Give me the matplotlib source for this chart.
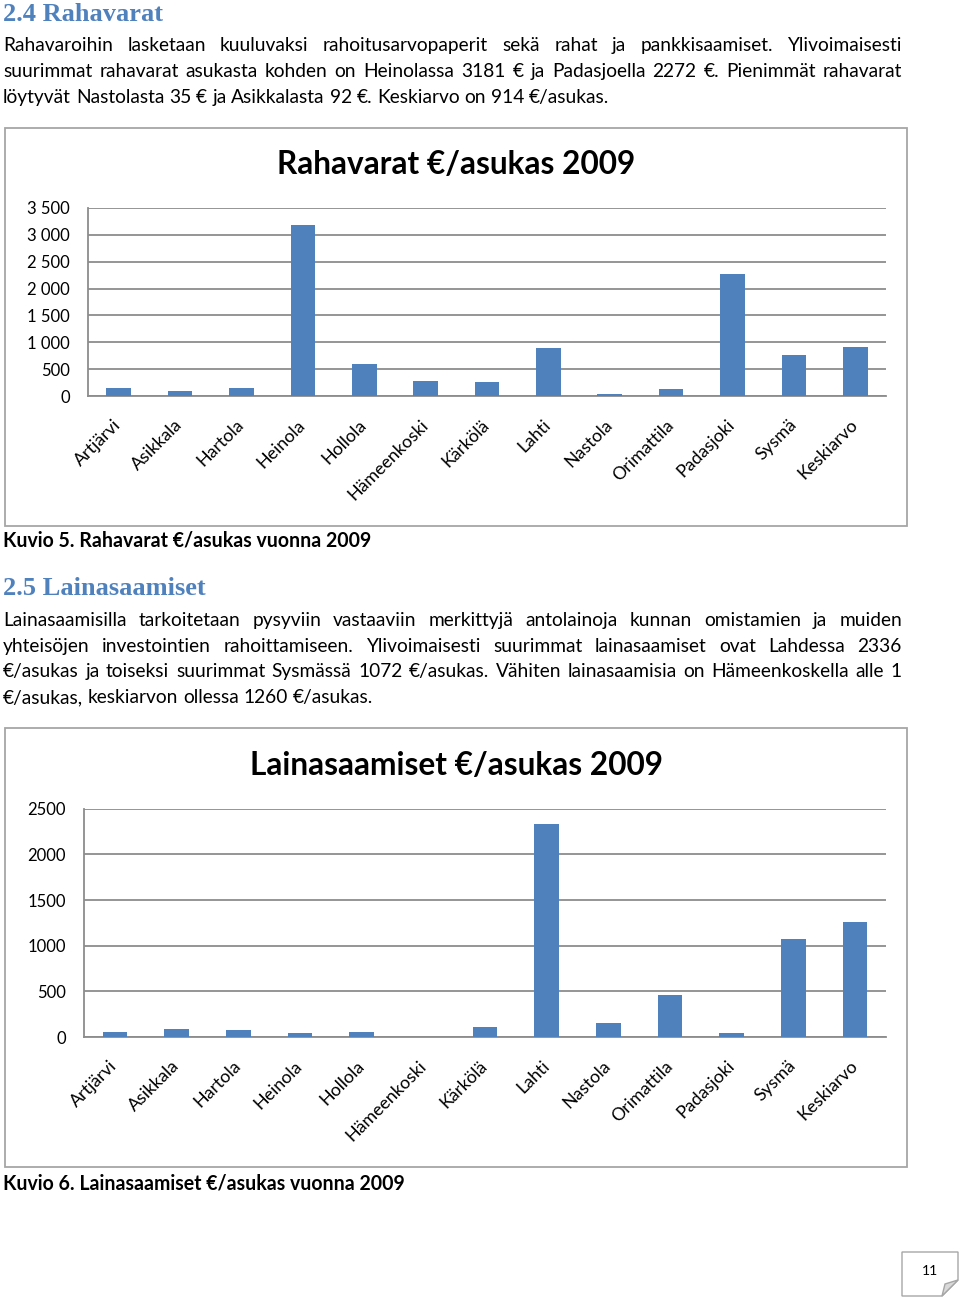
import matplotlib.pyplot as plt
from matplotlib.patches import Rectangle, Polygon

plt.rcParams['font.family'] = ['Lato', 'DejaVu Sans']

kunnat = ['Artjärvi', 'Asikkala', 'Hartola', 'Heinola', 'Hollola', 'Hämeenkoski',
          'Kärkölä', 'Lahti', 'Nastola', 'Orimattila', 'Padasjoki', 'Sysmä', 'Keskiarvo']
rahavarat = [155, 92, 155, 3181, 597, 285, 255, 890, 35, 130, 2272, 770, 914]
lainasaamiset = [58, 88, 80, 44, 58, 1, 113, 2336, 149, 455, 40, 1072, 1260]

raha_ticks = [0, 500, 1000, 1500, 2000, 2500, 3000, 3500]
raha_ticklabels = ['0', '500', '1 000', '1 500', '2 000', '2 500', '3 000', '3 500']
laina_ticks = [0, 500, 1000, 1500, 2000, 2500]
laina_ticklabels = ['0', '500', '1000', '1500', '2000', '2500']

teksti_24 = [
    'Rahavaroihin lasketaan kuuluvaksi rahoitusarvopaperit sekä rahat ja pankkisaamiset. Ylivoimaisesti',
    'suurimmat rahavarat asukasta kohden on Heinolassa 3181 € ja Padasjoella 2272 €. Pienimmät rahavarat',
    'löytyvät Nastolasta 35 € ja Asikkalasta 92 €. Keskiarvo on 914 €/asukas.',
]
teksti_25 = [
    'Lainasaamisilla tarkoitetaan pysyviin vastaaviin merkittyjä antolainoja kunnan omistamien ja muiden',
    'yhteisöjen investointien rahoittamiseen. Ylivoimaisesti suurimmat lainasaamiset ovat Lahdessa 2336',
    '€/asukas ja toiseksi suurimmat Sysmässä 1072 €/asukas. Vähiten lainasaamisia on Hämeenkoskella alle 1',
    '€/asukas, keskiarvon ollessa 1260 €/asukas.',
]

W, H = 960, 1298
fig = plt.figure(figsize=(W / 100, H / 100), dpi=100)
renderer = fig.canvas.get_renderer()

BLUE = '#4F81BD'
HEAD = '#4F81BD'
GRID = '#8C8C8C'
FRAME = '#A6A6A6'
BODY = 13.8


def fx(x):
    return x / W


def fy(y):
    return 1 - y / H


def put_line(line, y, justify, size=BODY, x0=3, x1=902):
    words = line.split(' ')
    texts = [fig.text(0, 0, w, fontsize=size, va='baseline') for w in words]
    widths = [t.get_window_extent(renderer).width for t in texts]
    if justify and len(words) > 1:
        gap = (x1 - x0 - sum(widths)) / (len(words) - 1)
    else:
        a = fig.text(0, 0, 'a a', fontsize=size)
        b = fig.text(0, 0, 'aa', fontsize=size)
        gap = a.get_window_extent(renderer).width - b.get_window_extent(renderer).width
        a.remove()
        b.remove()
    x = x0
    for t, w in zip(texts, widths):
        t.set_position((fx(x), fy(y)))
        x += w + gap


def heading(s, y):
    fig.text(fx(3), fy(y), s, fontsize=19, fontweight='bold', color=HEAD,
             family=['Liberation Serif', 'DejaVu Serif'], va='baseline')


def chart(box, ax_px, values, ticks, ticklabels, title, title_y):
    bx0, by0, bx1, by1 = box
    fig.patches.append(Rectangle((fx(bx0), fy(by1)), fx(bx1) - fx(bx0), fy(by0) - fy(by1),
                                 transform=fig.transFigure, fill=False,
                                 edgecolor=FRAME, linewidth=1.3))
    l, r, t, b = ax_px
    ax = fig.add_axes([fx(l), fy(b), fx(r) - fx(l), fy(t) - fy(b)])
    ax.bar(range(len(kunnat)), values, width=0.4, color=BLUE, zorder=3)
    ax.set_xlim(-0.5, len(kunnat) - 0.5)
    ax.set_ylim(0, ticks[-1])
    ax.set_yticks(ticks)
    ax.set_yticklabels(ticklabels, fontsize=12)
    ax.set_xticks(range(len(kunnat)))
    ax.set_xticklabels(kunnat, fontsize=12.8, rotation=45, ha='right',
                       rotation_mode='anchor', va='center')
    ax.tick_params(axis='y', length=0, pad=13)
    ax.tick_params(axis='x', length=0, pad=19)
    ax.grid(axis='y', color=GRID, linewidth=1.3, zorder=0)
    for s in ['top', 'right']:
        ax.spines[s].set_visible(False)
    for s in ['left', 'bottom']:
        ax.spines[s].set_color(GRID)
        ax.spines[s].set_linewidth(1.3)
    fig.text(fx(456), fy(title_y), title, fontsize=22.8, fontweight='bold',
             ha='center', va='baseline')
    return ax


heading('2.4 Rahavarat', 21)
put_line(teksti_24[0], 51, True)
put_line(teksti_24[1], 77, True)
put_line(teksti_24[2], 103, False)

chart((5, 128, 907, 526), (88, 886, 208, 396), rahavarat, raha_ticks,
      raha_ticklabels, 'Rahavarat €/asukas 2009', 174)

fig.text(fx(3), fy(547), 'Kuvio 5. Rahavarat €/asukas vuonna 2009', fontsize=14.05,
         fontweight='bold', va='baseline')

heading('2.5 Lainasaamiset', 595)
put_line(teksti_25[0], 626, True)
put_line(teksti_25[1], 652, True)
put_line(teksti_25[2], 677, True)
put_line(teksti_25[3], 703, False)

chart((5, 728, 907, 1167), (84, 886, 808.7, 1037), lainasaamiset, laina_ticks,
      laina_ticklabels, 'Lainasaamiset €/asukas 2009', 775)

fig.text(fx(3), fy(1189), 'Kuvio 6. Lainasaamiset €/asukas vuonna 2009', fontsize=14.05,
         fontweight='bold', va='baseline')

# page number tab with folded corner
pts = [(902, 1252), (958, 1252), (958, 1280), (942, 1296), (902, 1296)]
fig.patches.append(Polygon([(fx(x), fy(y)) for x, y in pts], closed=True,
                           transform=fig.transFigure, facecolor='white',
                           edgecolor=FRAME, linewidth=1))
fold = [(958, 1280), (945, 1284), (942, 1296)]
fig.patches.append(Polygon([(fx(x), fy(y)) for x, y in fold], closed=True,
                           transform=fig.transFigure, facecolor='#D9D9D9',
                           edgecolor=FRAME, linewidth=1))
fig.text(fx(930), fy(1271), '11', fontsize=10, ha='center', va='center')

fig.savefig('out.png', dpi=100)
